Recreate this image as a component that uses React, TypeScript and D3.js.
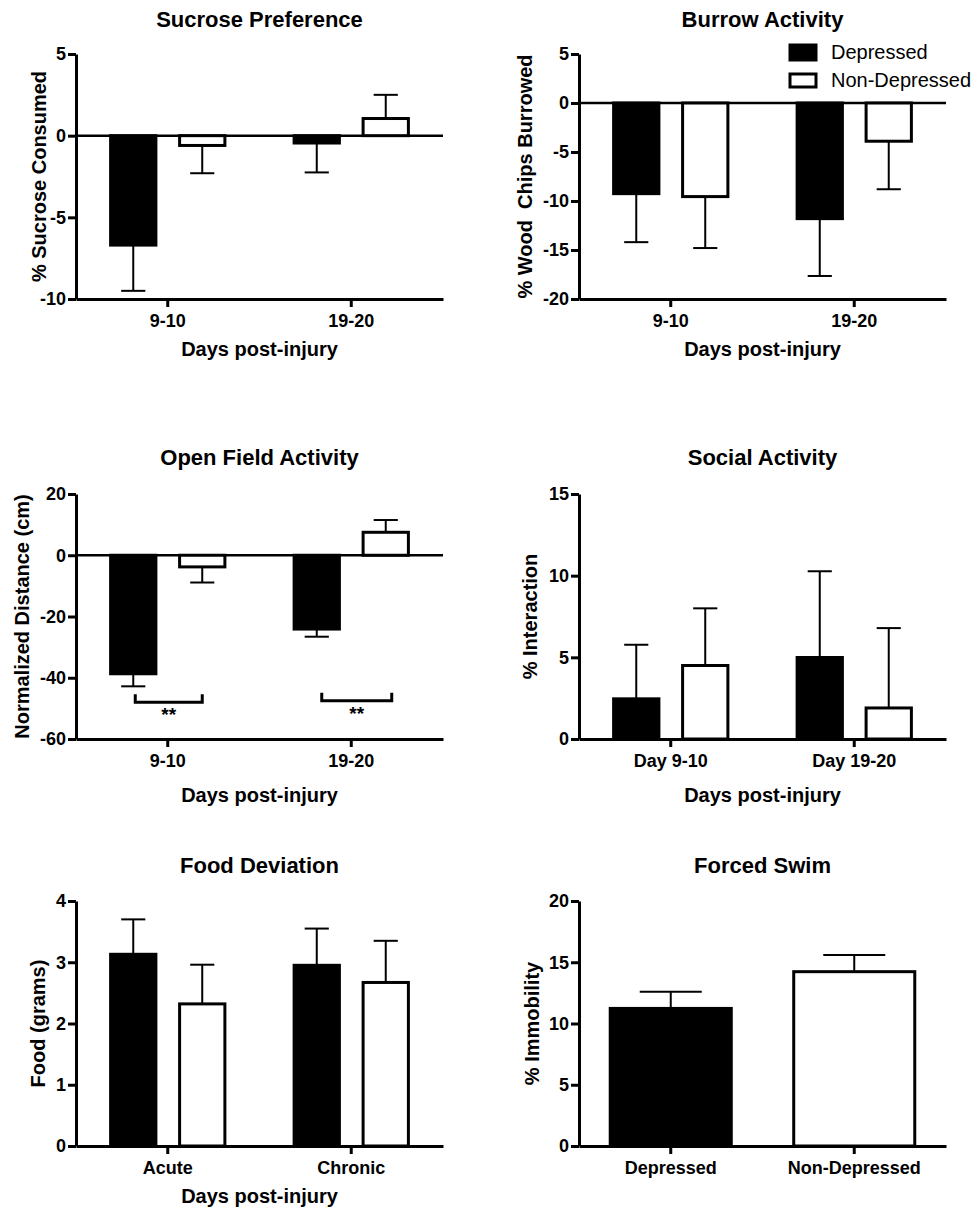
import React, { useRef, useEffect } from 'react';
import * as d3 from 'd3';

// groups and category labels
const groups = ['Depressed', 'Non-Depressed'];
const dayCats = ['9-10', '19-20'];
const socialCats = ['Day 9-10', 'Day 19-20'];
const foodCats = ['Acute', 'Chronic'];

// Sucrose preference (%)
const sucroseDep = [-6.7, -0.45];
const sucroseDepSem = [2.8, 1.8];
const sucroseNon = [-0.6, 1.05];
const sucroseNonSem = [1.7, 1.45];
const sucroseTicks = [-10, -5, 0, 5];

// Burrow activity (% wood chips)
const burrowDep = [-9.25, -11.8];
const burrowDepSem = [4.95, 5.85];
const burrowNon = [-9.55, -3.9];
const burrowNonSem = [5.25, 4.9];
const burrowTicks = [-20, -15, -10, -5, 0, 5];

// Open field (normalized distance, cm)
const openDep = [-38.7, -24.1];
const openDepSem = [4.1, 2.5];
const openNon = [-3.8, 7.5];
const openNonSem = [5.1, 4.0];
const openTicks = [-60, -40, -20, 0, 20];
const openSigLevel = [-48, -47.5];
const openSigLabel = ['**', '**'];

// Social activity (% interaction)
const socialDep = [2.46, 4.99];
const socialDepSem = [3.31, 5.28];
const socialNon = [4.5, 1.9];
const socialNonSem = [3.5, 4.89];
const socialTicks = [0, 5, 10, 15];

// Food deviation (grams)
const foodDep = [3.13, 2.95];
const foodDepSem = [0.57, 0.6];
const foodNon = [2.32, 2.67];
const foodNonSem = [0.64, 0.68];
const foodTicks = [0, 1, 2, 3, 4];

// Forced swim (% immobility)
const swimMean = [11.23, 14.23];
const swimSem = [1.37, 1.37];
const swimTicks = [0, 5, 10, 15, 20];

const FONT = "'Liberation Sans', Arial, sans-serif";
const PW = 367;
const PH = 245;

const panels = [
  { title: 'Sucrose Preference', yLabel: '% Sucrose Consumed', cats: dayCats, dep: sucroseDep, depSem: sucroseDepSem, non: sucroseNon, nonSem: sucroseNonSem, ticks: sucroseTicks, x: 76, y: 54, ylx: -37, titleY: 27, xlab: 'Days post-injury', xlabDy: 57 },
  { title: 'Burrow Activity', yLabel: '% Wood  Chips Burrowed', cats: dayCats, dep: burrowDep, depSem: burrowDepSem, non: burrowNon, nonSem: burrowNonSem, ticks: burrowTicks, x: 579, y: 54, ylx: -54, titleY: 27, xlab: 'Days post-injury', xlabDy: 57, legend: true },
  { title: 'Open Field Activity', yLabel: 'Normalized Distance (cm)', cats: dayCats, dep: openDep, depSem: openDepSem, non: openNon, nonSem: openNonSem, ticks: openTicks, x: 76, y: 494, ylx: -54, titleY: 465, xlab: 'Days post-injury', xlabDy: 63, sig: true },
  { title: 'Social Activity', yLabel: '% Interaction', cats: socialCats, dep: socialDep, depSem: socialDepSem, non: socialNon, nonSem: socialNonSem, ticks: socialTicks, x: 579, y: 494, ylx: -49, titleY: 465, xlab: 'Days post-injury', xlabDy: 63 },
  { title: 'Food Deviation', yLabel: 'Food (grams)', cats: foodCats, dep: foodDep, depSem: foodDepSem, non: foodNon, nonSem: foodNonSem, ticks: foodTicks, x: 76, y: 901, ylx: -38, titleY: 873, xlab: 'Days post-injury', xlabDy: 57 },
];

function App() {
  const svgRef = useRef(null);

  useEffect(() => {
    const svg = d3.select(svgRef.current);
    svg.selectAll('*').remove();

    const styleAxis = (g) => {
      g.select('.domain').attr('stroke', '#000').attr('stroke-width', 3);
      g.selectAll('.tick line').attr('stroke', '#000').attr('stroke-width', 3);
      g.selectAll('.tick text')
        .attr('fill', '#000')
        .style('font-family', FONT)
        .style('font-weight', 'bold')
        .style('font-size', '18px');
    };

    const drawFrame = (g, p, y, x0) => {
      // title
      g.append('text')
        .attr('x', PW / 2)
        .attr('y', p.titleY - p.y)
        .attr('text-anchor', 'middle')
        .style('font-family', FONT)
        .style('font-weight', 'bold')
        .style('font-size', '22px')
        .text(p.title);

      // y label
      g.append('text')
        .attr('transform', `translate(${p.ylx},${PH / 2}) rotate(-90)`)
        .attr('text-anchor', 'middle')
        .attr('dy', '0.36em')
        .style('font-family', FONT)
        .style('font-weight', 'bold')
        .style('font-size', '20px')
        .style('white-space', 'pre')
        .text(p.yLabel);

      if (p.xlab) {
        g.append('text')
          .attr('x', PW / 2)
          .attr('y', PH + p.xlabDy)
          .attr('text-anchor', 'middle')
          .style('font-family', FONT)
          .style('font-weight', 'bold')
          .style('font-size', '20px')
          .text(p.xlab);
      }

      const domMin = y.domain()[0];
      if (domMin < 0) {
        g.append('line')
          .attr('x1', 0).attr('x2', PW)
          .attr('y1', y(0)).attr('y2', y(0))
          .attr('stroke', '#000').attr('stroke-width', 2.5);
      }

      g.append('g')
        .call(d3.axisLeft(y).tickValues(p.ticks).tickFormat((d) => String(d))
          .tickSize(8).tickSizeOuter(0).tickPadding(2))
        .call(styleAxis);

      g.append('g')
        .attr('transform', `translate(0,${PH})`)
        .call(d3.axisBottom(x0).tickSize(8).tickSizeOuter(0).tickPadding(7))
        .call(styleAxis);
    };

    const drawBar = (g, y, bx, bw, v, sem, fill) => {
      const y0 = y(0);
      const yv = y(v);
      const dir = v >= 0 ? 1 : -1;
      const ye = y(v + dir * sem);
      const cx = bx + bw / 2;
      g.append('line')
        .attr('x1', cx).attr('x2', cx)
        .attr('y1', yv).attr('y2', ye)
        .attr('stroke', '#000').attr('stroke-width', 2);
      g.append('line')
        .attr('x1', cx - bw / 4).attr('x2', cx + bw / 4)
        .attr('y1', ye).attr('y2', ye)
        .attr('stroke', '#000').attr('stroke-width', 2);
      g.append('rect')
        .attr('x', bx + 1.5)
        .attr('width', bw - 3)
        .attr('y', Math.min(yv, y0))
        .attr('height', Math.abs(yv - y0))
        .attr('fill', fill)
        .attr('stroke', '#000')
        .attr('stroke-width', 3);
    };

    panels.forEach((p) => {
      const g = svg.append('g').attr('transform', `translate(${p.x},${p.y})`);
      const y = d3.scaleLinear()
        .domain([p.ticks[0], p.ticks[p.ticks.length - 1]])
        .range([PH, 0]);
      const x0 = d3.scaleBand().domain(p.cats).range([0, PW]).padding(0);
      const x1 = d3.scaleBand().domain(groups).range([0, x0.bandwidth()])
        .paddingInner(0.3).paddingOuter(0.48);

      drawFrame(g, p, y, x0);

      p.cats.forEach((c, i) => {
        drawBar(g, y, x0(c) + x1(groups[0]), x1.bandwidth(), p.dep[i], p.depSem[i], '#000');
        drawBar(g, y, x0(c) + x1(groups[1]), x1.bandwidth(), p.non[i], p.nonSem[i], '#fff');
      });

      if (p.sig) {
        p.cats.forEach((c, i) => {
          const xa = x0(c) + x1(groups[0]) + x1.bandwidth() / 2 + 2 + i * 3;
          const xb = x0(c) + x1(groups[1]) + x1.bandwidth() / 2 + i * 6;
          const yl = y(openSigLevel[i]);
          g.append('path')
            .attr('d', `M${xa},${yl - 8}V${yl}H${xb}V${yl - 8}`)
            .attr('fill', 'none')
            .attr('stroke', '#000')
            .attr('stroke-width', 3);
          g.append('text')
            .attr('x', (xa + xb) / 2)
            .attr('y', yl + 19)
            .attr('text-anchor', 'middle')
            .style('font-family', FONT)
            .style('font-weight', 'bold')
            .style('font-size', '19px')
            .text(openSigLabel[i]);
        });
      }

      if (p.legend) {
        const lg = svg.append('g');
        const items = [
          { name: groups[0], fill: '#000', ry: 45, h: 15, ty: 59 },
          { name: groups[1], fill: '#fff', ry: 74, h: 13, ty: 87 },
        ];
        items.forEach((it) => {
          lg.append('rect')
            .attr('x', 790).attr('y', it.ry)
            .attr('width', 26).attr('height', it.h)
            .attr('fill', it.fill)
            .attr('stroke', '#000').attr('stroke-width', 3);
          lg.append('text')
            .attr('x', 831).attr('y', it.ty)
            .style('font-family', FONT)
            .style('font-size', '20px')
            .text(it.name);
        });
      }
    });

    // Forced swim: one bar per group
    const sp = { title: 'Forced Swim', yLabel: '% Immobility', ticks: swimTicks, x: 579, y: 901, ylx: -47, titleY: 873 };
    const sg = svg.append('g').attr('transform', `translate(${sp.x},${sp.y})`);
    const sy = d3.scaleLinear().domain([0, 20]).range([PH, 0]);
    const sx = d3.scaleBand().domain(groups).range([0, PW]).paddingInner(0.324).paddingOuter(0.162);
    drawFrame(sg, sp, sy, sx);
    groups.forEach((gname, i) => {
      drawBar(sg, sy, sx(gname), sx.bandwidth(), swimMean[i], swimSem[i], i === 0 ? '#000' : '#fff');
    });
  }, []);

  return (
    <div style={{ position: 'absolute', left: 0, top: 0, background: '#fff' }}>
      <svg ref={svgRef} width={977} height={1212}></svg>
    </div>
  );
}

export default App;
